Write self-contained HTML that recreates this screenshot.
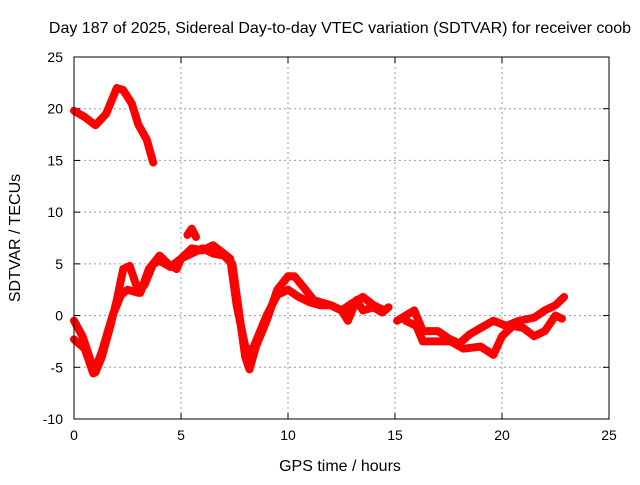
<!DOCTYPE html>
<html><head><meta charset="utf-8"><style>
body{margin:0;background:#fff;font-family:"Liberation Sans",sans-serif;}
svg text{font-family:"Liberation Sans",sans-serif;font-size:14px;fill:#000;}
svg text.big{font-size:16px;}
</style></head><body>
<svg id="chart" width="640" height="480">
<text class="big" x="340" y="33" text-anchor="middle">Day 187 of 2025, Sidereal Day-to-day VTEC variation (SDTVAR) for receiver coob</text>
<text class="big" x="340" y="471" text-anchor="middle">GPS time / hours</text>
<text class="big" transform="translate(20,238) rotate(-90)" text-anchor="middle">SDTVAR / TECUs</text>
<g id="grid"></g><g id="marks"></g>
<rect x="74" y="57" width="535" height="362" fill="none" stroke="#000" stroke-width="1"/>
</svg>
<script>
const xTicks=[0,5,10,15,20,25];
const yTicks=[-10,-5,0,5,10,15,20,25];
const traceTopX=[0,0.5,1,1.5,2,2.3,2.7,3,3.4,3.7];
const traceTopY=[19.8,19.2,18.4,19.5,22,21.8,20.5,18.5,17,14.8];
const traceAX=[0,0.4,0.8,1,1.3,1.7,2,2.3,2.6,2.9,3.1,3.5,4,4.4,4.8,5,5.5,6,6.5,7,7.4,7.6,7.8,8,8.2,8.5,9,9.5,10,10.3,10.7,11.2,11.5,12,12.5,13,13.5,14,14.5];
const traceAY=[-0.5,-2,-4.5,-5.5,-4,-1,1.5,4.5,4.8,3,2.2,4.5,5.8,5,4.5,5.5,6,6.5,6,5.8,5,2,-1,-4,-5.2,-3,-0.5,2.5,3.8,3.8,2.8,1.5,1.3,1,0.5,1.2,1.8,1,0.5];
const traceBX=[0,0.5,0.9,1.3,1.8,2.2,2.5,3,3.3,3.7,4,4.5,5,5.5,6,6.5,7,7.3,7.6,8,8.3,8.6,9,9.5,10,10.5,11,11.5,12,12.5,12.8,13.2,13.5,14,14.4,14.7];
const traceBY=[-2.3,-3.2,-5.6,-3.5,0,2,2.5,2.2,3,5,5.3,4.7,5.5,6.5,6.3,6.8,6,5.5,1,-3,-3.5,-2,0,2,2.5,1.8,1.3,1,1,0.5,-0.5,1.5,0.5,0.8,0.3,0.8];
const traceSpikeX=[5.3,5.5,5.7];
const traceSpikeY=[7.8,8.4,7.6];
const traceCX=[15.1,15.5,15.9,16.3,17,17.5,18,18.5,19,19.6,20.2,20.8,21.5,22,22.5,22.9];
const traceCY=[-0.5,0,0.5,-1.5,-1.5,-2.2,-2.7,-1.8,-1.2,-0.5,-1,-0.5,-0.2,0.5,1,1.8];
const traceDX=[15.5,16,16.3,17,17.6,18.2,19,19.6,20,20.5,21,21.5,22,22.5,22.8];
const traceDY=[-0.5,-1,-2.5,-2.5,-2.5,-3.2,-3,-3.8,-2,-1,-1.2,-2,-1.5,0,-0.3];
const X0=74,X1=609,Y0=419,Y1=57;
const sx=v=>X0+(v-0)/25*(X1-X0);
const sy=v=>Y0-(v+10)/35*(Y0-Y1);
const NS="http://www.w3.org/2000/svg";
const svg=document.getElementById('chart'),grid=document.getElementById('grid'),marks=document.getElementById('marks');
function mk(t,a,p){const e=document.createElementNS(NS,t);for(const k in a)e.setAttribute(k,a[k]);p.appendChild(e);return e;}
xTicks.forEach(t=>{const x=sx(t);
 if(t>0&&t<25){const g=mk('line',{x1:x,x2:x,y1:Y1,y2:Y0,stroke:'#999','stroke-dasharray':'2,3'},grid);
 
 }
 const l=mk('text',{x:x,y:Y0+21,'text-anchor':'middle'},svg);l.textContent=t;
 
 
 mk('line',{x1:x,x2:x,y1:Y0,y2:Y0-6,stroke:'#000'},grid);mk('line',{x1:x,x2:x,y1:Y1,y2:Y1+6,stroke:'#000'},grid);});
yTicks.forEach(t=>{const y=sy(t);
 if(t>-10&&t<25){const g=mk('line',{x1:X0,x2:X1,y1:y,y2:y,stroke:'#999','stroke-dasharray':'2,3'},grid);
 
 }
 const l=mk('text',{x:X0-11,y:y+5,'text-anchor':'end'},svg);l.textContent=t;
 
 
 mk('line',{x1:X0,x2:X0+6,y1:y,y2:y,stroke:'#000'},grid);mk('line',{x1:X1,x2:X1-6,y1:y,y2:y,stroke:'#000'},grid);});
function trace(xs,ys,name){const p=mk('polyline',{points:xs.map((v,i)=>sx(v)+','+sy(ys[i])).join(' '),fill:'none',stroke:'#f00','stroke-width':8,'stroke-linejoin':'round','stroke-linecap':'round'},marks);
 
 }
trace(traceTopX,traceTopY,'series-top');
trace(traceAX,traceAY,'series-a');
trace(traceBX,traceBY,'series-b');
trace(traceSpikeX,traceSpikeY,'series-spike');
trace(traceCX,traceCY,'series-c');
trace(traceDX,traceDY,'series-d');
</script>
</body></html>
